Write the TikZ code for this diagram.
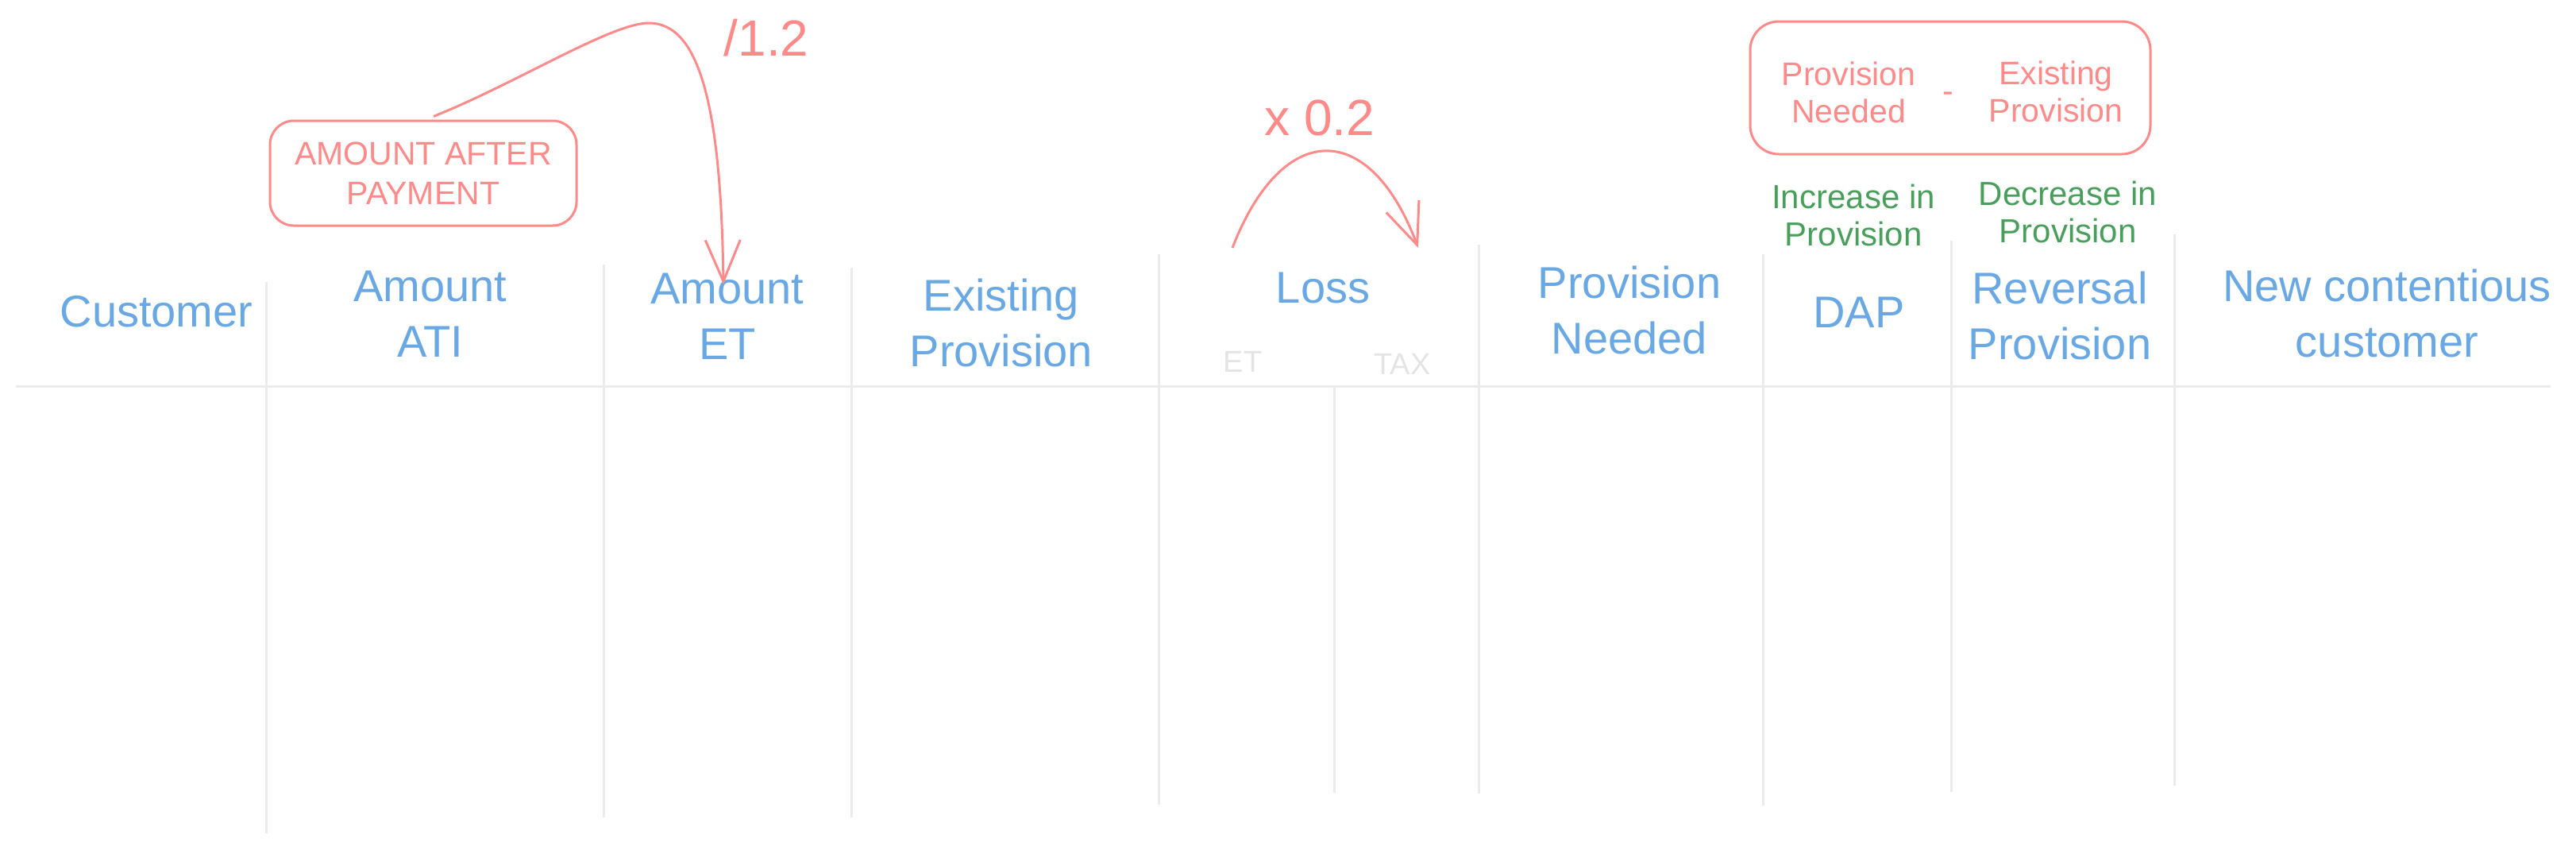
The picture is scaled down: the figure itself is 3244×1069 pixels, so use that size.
\documentclass[tikz,border=0pt]{standalone}
\usepackage{fontspec}
\setmainfont{Liberation Sans}
\usetikzlibrary{arrows.meta}
\definecolor{hdrblue}{HTML}{6AA8E4}
\definecolor{sketchred}{HTML}{FF8A8A}
\definecolor{notegreen}{HTML}{4A9E5C}
\definecolor{gridgray}{HTML}{EBEBEB}
\definecolor{fadegray}{HTML}{E4E4E4}
\begin{document}
\begin{tikzpicture}[x=1pt,y=-1pt,
  hdr/.style={text=hdrblue, font=\fontsize{56}{70}\selectfont, align=center, inner sep=0pt},
  note/.style={text=notegreen, font=\fontsize{42}{47}\selectfont, align=center, inner sep=0pt},
  redtxt/.style={text=sketchred, font=\fontsize{41}{47}\selectfont, align=center, inner sep=0pt},
  bigred/.style={text=sketchred, font=\fontsize{64}{70}\selectfont, inner sep=0pt},
  faint/.style={text=fadegray, font=\fontsize{38}{44}\selectfont, inner sep=0pt},
  gridline/.style={draw=gridgray, line width=3pt},
  redbox/.style={draw=sketchred, line width=3pt, rounded corners=36pt, inner sep=0pt},
  redarrow/.style={draw=sketchred, line width=3pt, -{Straight Barb[length=52pt,width=44pt,line width=3pt]}},
]
\useasboundingbox (0,0) rectangle (3244,1069);

% table grid
\draw[gridline] (20,486) -- (3212,486);
\draw[gridline] (335,355) -- (335,1049);
\draw[gridline] (760,333) -- (760,1029);
\draw[gridline] (1072,337) -- (1072,1029);
\draw[gridline] (1459,320) -- (1459,1013);
\draw[gridline] (1680,488) -- (1680,998);
\draw[gridline] (1862,308) -- (1862,999);
\draw[gridline] (2220,320) -- (2220,1014);
\draw[gridline] (2457,303) -- (2457,997);
\draw[gridline] (2738,295) -- (2738,989);

% column headers
\node[hdr] (customer) at (197,392) {Customer};
\node[hdr] (amountati) at (542,395) {Amount\\ATI};
\node[hdr] (amountet) at (916,398) {Amount\\ET};
\node[hdr] (existing) at (1261,406) {Existing\\Provision};
\node[hdr] (loss) at (1666,363) {Loss};
\node[faint] (losset) at (1565,455) {ET};
\node[faint] (losstax) at (1766,458) {TAX};
\node[hdr] (needed) at (2052,390) {Provision\\Needed};
\node[hdr] (dap) at (2341,393) {DAP};
\node[hdr] (reversal) at (2594,397) {Reversal\\Provision};
\node[hdr] (newcust) at (3006,394) {New contentious\\customer};

% green notes
\node[note] (increase) at (2334,271) {Increase in\\Provision};
\node[note] (decrease) at (2604,267) {Decrease in\\Provision};

% formula box
\node[redbox, minimum width=504pt, minimum height=167pt] (formula) at (2456,110.5) {};
\node[redtxt] (fneeded) at (2328,116) {Provision\\Needed};
\node[redtxt, anchor=base] (fminus) at (2453,128) {-};
\node[redtxt] (fexisting) at (2589,115) {Existing\\Provision};

% amount after payment box
\node[redbox, minimum width=386pt, minimum height=132pt, rounded corners=30pt,
      text=sketchred, font=\fontsize{41}{50}\selectfont, align=center] (payment) at (533,218)
      {AMOUNT AFTER\\PAYMENT};

% divide by 1.2 arrow
\coordinate (peakone) at (817,29);
\coordinate (ettip) at (911,358);
\draw[redarrow] ([xshift=13pt,yshift=4pt]payment.north) .. controls (650,105) and (770,29) .. (peakone)
      .. controls (880,29) and (908,130) .. (ettip);
\node[bigred] (divlabel) at (965,48) {/1.2};

% times 0.2 arrow
\coordinate (lossfrom) at (1552,312);
\coordinate (lossto) at (1786,312);
\draw[redarrow] (lossfrom) .. controls (1615,150) and (1725,150) .. (lossto);
\node[bigred] (mullabel) at (1662,148) {x 0.2};
\end{tikzpicture}
\end{document}
